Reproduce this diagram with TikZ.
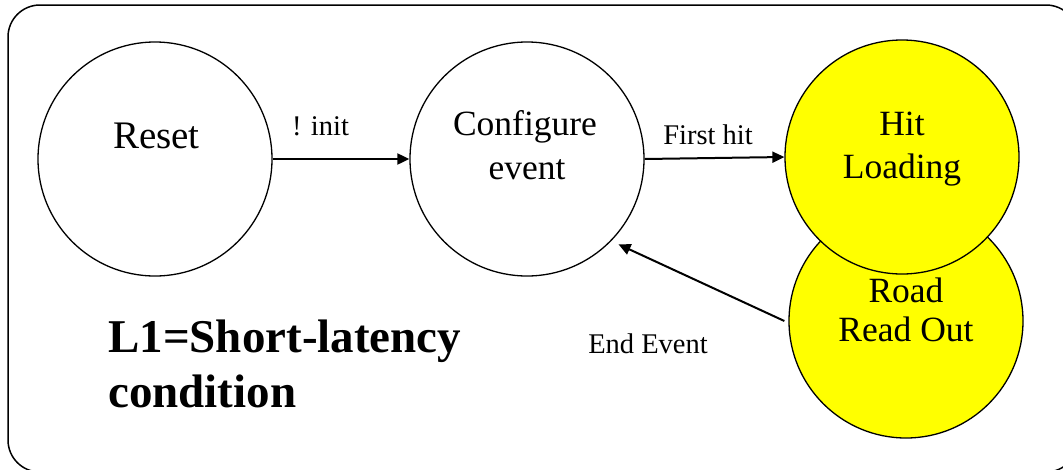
\documentclass[tikz,border=0pt]{standalone}
\usepackage{fontspec}
\setmainfont{Liberation Serif}
\usetikzlibrary{arrows.meta}
\definecolor{stateyellow}{RGB}{255,255,0}
\tikzset{
  x=1pt, y=1pt,
  state/.style={circle, draw=black, line width=1.3pt, minimum size=234pt, inner sep=0pt},
  hotstate/.style={state, fill=stateyellow},
  statetext/.style={anchor=base, inner sep=0pt, font=\fontsize{35.5}{40}\selectfont},
  edgelabel/.style={anchor=base, inner sep=0pt, font=\fontsize{28.5}{32}\selectfont},
  trans/.style={line width=2pt, -{Triangle[length=12pt,width=11pt]}},
  frame/.style={draw=black, line width=1.5pt, rounded corners=32pt},
  condtext/.style={anchor=base west, inner sep=0pt, font=\fontsize{47}{55}\selectfont\bfseries},
}
\begin{document}
\begin{tikzpicture}
  \useasboundingbox (0,0) rectangle (1063,-469);
  % outer frame, running past the right and bottom edges
  \draw[frame] (8,-5) rectangle (1078,-472);

  % states
  \node[state] (reset) at (155,-159) {};
  \node[state] (conf) at (527,-159) {};
  \node[hotstate] (road) at (906,-321) {};
  \node[hotstate] (hit) at (902,-157) {};

  % state names
  \node[statetext, font=\fontsize{39}{44}\selectfont] (resettxt) at (156.5,-148) {Reset};
  \node[statetext] (conftxta) at (525,-135) {Configure};
  \node[statetext] (conftxtb) at (527,-179) {event};
  \node[statetext] (hittxta) at (902,-135) {Hit};
  \node[statetext] (hittxtb) at (902,-178) {Loading};
  \node[statetext] (roadtxta) at (906,-302) {Road};
  \node[statetext] (roadtxtb) at (906,-341) {Read Out};

  % transitions
  \draw[trans] (reset.east) -- (conf.west);
  \draw[trans] (conf.east) -- (hit.west);
  \coordinate (endtip) at ([shift={(-43:7.5)}]conf.-43);
  \draw[trans] ([xshift=-4pt]road.west) -- (endtip);

  % transition labels
  \node[edgelabel] (initlbl) at (320.5,-135) {! init};
  \node[edgelabel] (firstlbl) at (708,-144) {First hit};
  \node[edgelabel] (endlbl) at (648,-353) {End Event};

  % trigger condition
  \node[condtext] (cond1) at (108,-352) {L1=Short-latency};
  \node[condtext] (cond2) at (108,-407) {condition};
\end{tikzpicture}
\end{document}
